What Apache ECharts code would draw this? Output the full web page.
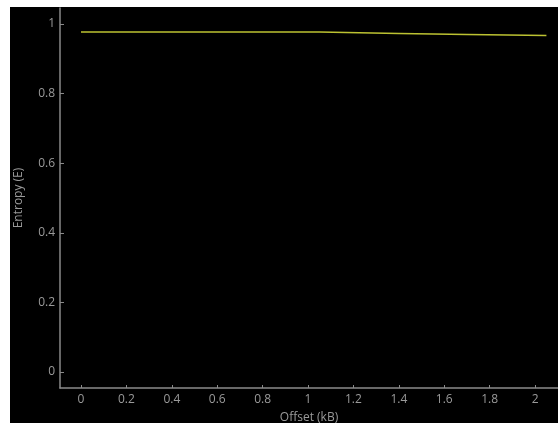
<!DOCTYPE html>
<html><head><meta charset="utf-8">
<script src="https://cdn.jsdelivr.net/npm/echarts@6/dist/echarts.min.js"></script>
<style>
html,body{margin:0;padding:0;background:#fff;width:558px;height:423px;overflow:hidden;}
#c{position:absolute;left:10px;top:7px;width:548px;height:416px;background:#000;}
</style></head><body>
<div id="c"></div>
<script>
const offsets = [0, 0.5, 1.05, 1.4, 1.7, 2.05];
const entropy = [0.977, 0.977, 0.977, 0.973, 0.970, 0.967];
const xTicks = [0, 0.2, 0.4, 0.6, 0.8, 1, 1.2, 1.4, 1.6, 1.8, 2];
const yTicks = [0, 0.2, 0.4, 0.6, 0.8, 1];

const chart = echarts.init(document.getElementById('c'));
const font = '"Open Sans", "Noto Sans", sans-serif';
const lbl = {color:'#9a9a9a', fontSize:12, fontFamily:font};
chart.setOption({
  backgroundColor:'#000',
  animation:false,
  grid:{left:50, top:1, right:0, bottom:35, containLabel:false, outerBoundsMode:'none'},
  xAxis:{
    type:'value', min:-0.0925, max:2.101,
    name:'Offset (kB)', nameLocation:'middle', nameGap:24,
    nameTextStyle:{color:'#9a9a9a', fontSize:12, fontFamily:font},
    axisLine:{show:true, onZero:false, lineStyle:{color:'#8a8a8a', width:1.5}},
    axisTick:{show:true, inside:true, length:3, customValues:xTicks, lineStyle:{color:'#8a8a8a'}},
    axisLabel:{...lbl, margin:6, customValues:xTicks, formatter:v=>String(Math.round(v*10)/10)},
    splitLine:{show:false}
  },
  yAxis:{
    type:'value', min:-0.046, max:1.046,
    name:'Entropy (E)', nameLocation:'middle', nameGap:35,
    nameTextStyle:{color:'#9a9a9a', fontSize:12, fontFamily:font},
    axisLine:{show:true, onZero:false, lineStyle:{color:'#8a8a8a', width:1.5}},
    axisTick:{show:true, inside:true, length:4, customValues:yTicks, lineStyle:{color:'#8a8a8a'}},
    axisLabel:{...lbl, margin:5, customValues:yTicks, formatter:v=>String(Math.round(v*10)/10)},
    splitLine:{show:false}
  },
  series:[{
    type:'line',
    data: offsets.map((x,i)=>[x, entropy[i]]),
    showSymbol:false, symbol:'none',
    lineStyle:{color:'#bcc232', width:1.5}
  }]
});
</script>
</body></html>
